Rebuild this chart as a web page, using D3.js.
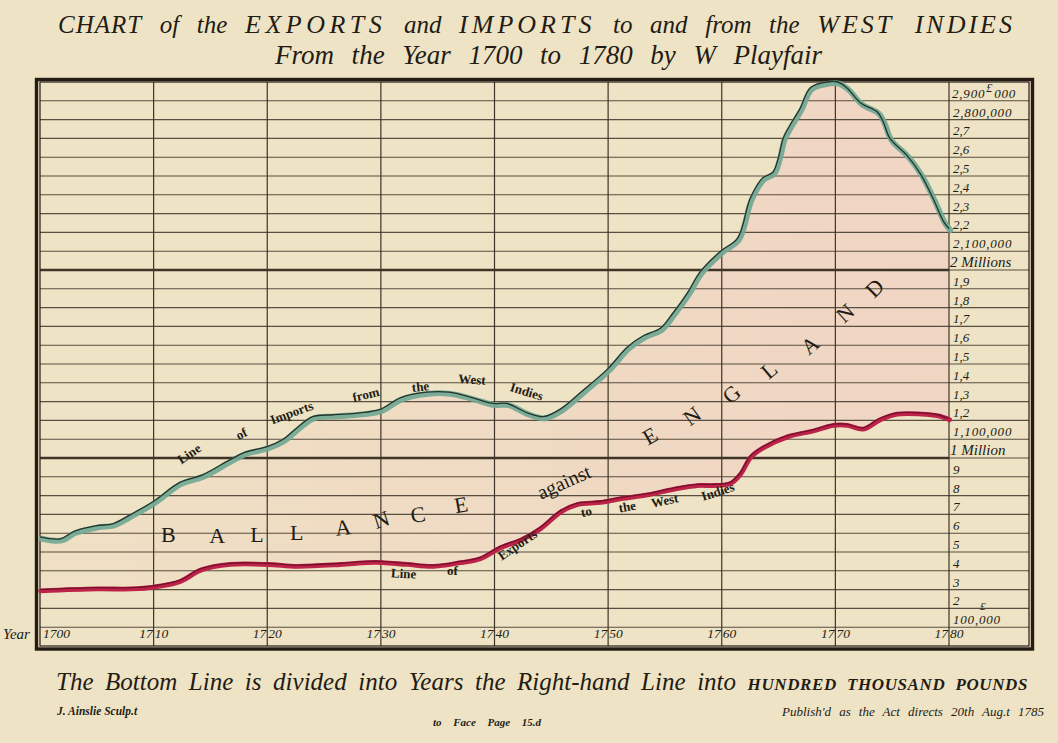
<!DOCTYPE html>
<html><head><meta charset="utf-8">
<script src="https://cdn.jsdelivr.net/npm/d3@7"></script>
<style>
html,body{margin:0;padding:0;background:#efe3c4;}
svg{display:block;}
</style></head><body>
<svg id="chart" width="1058" height="743"></svg>
<script>
// ---------------- DATA ----------------
const importYears = [1700,1701.8,1703,1705,1706.4,1708,1710,1712.3,1714.3,1716.7,1718,1720,1721.4,1722.6,1724,1725.8,1728.2,1730,1731.7,1734,1736,1738.1,1739.9,1741.1,1742.9,1744.3,1745.8,1747.8,1749.9,1751.7,1753.1,1754.6,1755.7,1757,1758.1,1759.9,1761.4,1762.5,1763.6,1764.5,1765,1765.4,1766,1766.9,1767.8,1769.3,1770.2,1771,1772.2,1773.7,1774.2,1774.8,1776.3,1777.5,1778.6,1779.5,1780];
const importValues = [580000,570000,610000,640000,650000,700000,770000,870000,910000,990000,1030000,1060000,1100000,1160000,1220000,1230000,1240000,1260000,1320000,1350000,1350000,1320000,1290000,1290000,1240000,1220000,1260000,1360000,1470000,1590000,1650000,1690000,1770000,1880000,1990000,2100000,2170000,2380000,2490000,2520000,2600000,2700000,2770000,2860000,2970000,3000000,3000000,2970000,2890000,2840000,2790000,2700000,2610000,2510000,2380000,2260000,2220000];

const exportYears = [1700,1705,1708,1710,1712.3,1714.1,1716.7,1720,1722.6,1726.4,1728.8,1730.1,1732.3,1734.6,1737,1738.7,1740.5,1742.3,1744,1745.8,1747.3,1749.3,1751.1,1753.4,1755.7,1757.8,1759.2,1760.7,1761.6,1762.5,1763.6,1765.8,1768,1769.8,1771,1772.4,1773.9,1775.4,1777.5,1779,1780];
const exportValues = [300000,310000,310000,320000,350000,410000,440000,440000,430000,440000,450000,450000,440000,430000,450000,470000,530000,570000,630000,720000,760000,770000,790000,810000,840000,860000,860000,870000,920000,1010000,1060000,1120000,1150000,1180000,1180000,1160000,1210000,1240000,1240000,1230000,1210000];

const yearTicks = [1700,1710,1720,1730,1740,1750,1760,1770,1780];
const valueTicks = [100000,200000,300000,400000,500000,600000,700000,800000,900000,1000000,1100000,1200000,1300000,1400000,1500000,1600000,1700000,1800000,1900000,2000000,2100000,2200000,2300000,2400000,2500000,2600000,2700000,2800000,2900000];
const valueLabels = ["100,000","2","3","4","5","6","7","8","9","1 Million","1,100,000","1,2","1,3","1,4","1,5","1,6","1,7","1,8","1,9","2 Millions","2,100,000","2,2","2,3","2,4","2,5","2,6","2,7","2,800,000","2,900,000"];
const majorTicks = [1000000,2000000];

// annotation words: [text, year, value, rotation]
const importNote = [["Line",1713.2,1016000,-34],["of",1717.8,1122000,-28],["Imports",1722.2,1234000,-20],["from",1728.7,1330000,-14],["the",1733.5,1372000,-6],["West",1738.0,1410000,4],["Indies",1742.8,1346000,17]];
const exportNote = [["Line",1732.0,378000,3],["of",1736.3,394000,0],["Exports",1742.1,532000,-34],["to",1748.1,707000,-14],["the",1751.7,734000,-10],["West",1755.0,766000,-12],["Indies",1759.7,814000,-18]];
const bigLetters = [["B",1711.3,580000,0],["A",1715.6,574000,0],["L",1719.1,580000,0],["L",1722.6,590000,0],["A",1726.7,617000,-6],["N",1730.1,660000,-18],["C",1733.3,686000,-10],["E",1737.1,739000,-10],
  ["E",1753.8,1106000,-30],["N",1757.5,1213000,-36],["G",1761.0,1330000,-40],["L",1764.3,1457000,-40],["A",1767.9,1590000,-40],["N",1771.0,1761000,-42],["D",1773.6,1894000,-45]];
const againstNote = ["against",1746.2,862000,-24];

// ---------------- CHART ----------------
const W = 1058, H = 743;
const svg = d3.select("#chart");
const ink = "#221c14";
const tf = "'Liberation Serif',serif";
const x = d3.scaleLinear().domain([1700,1780]).range([40,949]);
const y = d3.scaleLinear().domain([0,3000000]).range([646,82]);
const RIGHT = 1029;

svg.append("rect").attr("width",W).attr("height",H).attr("fill","#efe3c5");

const defs = svg.append("defs");
const grad = defs.append("linearGradient").attr("id","bal").attr("gradientUnits","userSpaceOnUse")
  .attr("x1",x(1700)).attr("x2",x(1780)).attr("y1",0).attr("y2",0);
grad.append("stop").attr("offset","0").attr("stop-color","#efe0c4");
grad.append("stop").attr("offset","0.45").attr("stop-color","#efdbc3");
grad.append("stop").attr("offset","1").attr("stop-color","#f0d5c3");

const imports = importYears.map((yr,i)=>[yr, importValues[i]]);
const exportsD = exportYears.map((yr,i)=>[yr, exportValues[i]]);
const line = d3.line().x(d=>x(d[0])).y(d=>y(d[1])).curve(d3.curveCatmullRom.alpha(0.5));

// balance area
const areaPath = line(imports) + line(exportsD.slice().reverse()).replace(/^M/,"L") + "Z";
svg.append("path").attr("d",areaPath).attr("fill","url(#bal)");

// horizontal grid
const grid = svg.append("g").attr("stroke","#3e3528").attr("fill","none");
grid.selectAll("line.h").data(valueTicks).join("line").attr("class","h")
  .attr("x1",x(1700)).attr("x2",RIGHT).attr("y1",d=>y(d)).attr("y2",d=>y(d))
  .attr("stroke-width",1.1).attr("stroke-opacity",0.85);
grid.selectAll("line.m").data(majorTicks).join("line").attr("class","m")
  .attr("x1",x(1700)).attr("x2",x(1780)).attr("y1",d=>y(d)).attr("y2",d=>y(d))
  .attr("stroke-width",2.6);
// vertical grid
grid.selectAll("line.v").data(yearTicks.slice(1)).join("line").attr("class","v")
  .attr("x1",d=>x(d)).attr("x2",d=>x(d)).attr("y1",y(0)).attr("y2",y(3000000))
  .attr("stroke-width",1.2);

// frame
svg.append("rect").attr("x",x(1700)).attr("y",y(3000000)).attr("width",RIGHT-x(1700)).attr("height",y(0)-y(3000000))
  .attr("fill","none").attr("stroke",ink).attr("stroke-width",1.2);
svg.append("rect").attr("x",36.5).attr("y",79.5).attr("width",RIGHT-36.5+3.5).attr("height",y(0)-79.5+3)
  .attr("fill","none").attr("stroke",ink).attr("stroke-width",3.4);

// lines
svg.append("path").attr("d",line(imports)).attr("fill","none").attr("stroke","#72a894")
  .attr("stroke-width",5.8).attr("stroke-opacity",0.92).attr("transform","translate(1.4,1.6)").attr("stroke-linecap","round");
svg.append("path").attr("d",line(imports)).attr("fill","none").attr("stroke","#23352c").attr("stroke-width",1.3);
svg.append("path").attr("d",line(exportsD)).attr("fill","none").attr("stroke","#bd2249")
  .attr("stroke-width",4.8).attr("transform","translate(0.6,1.2)").attr("stroke-linecap","round");
svg.append("path").attr("d",line(exportsD)).attr("fill","none").attr("stroke","#74102c").attr("stroke-width",1.3);

// right-hand value labels
const rl = svg.append("g").attr("font-family",tf).attr("font-style","italic").attr("fill",ink);
valueTicks.forEach((v,i)=>{
  const lab = valueLabels[i];
  const big = lab.includes("Million");
  const ls = (lab.length>6 && !big) ? 0.8 : 0;
  if (v===2900000){
    const parts = lab.split(/,(?=\d{3}$)/);
    const a = rl.append("text").attr("x",x(1780)+3).attr("y",y(v)-3).attr("font-size",13).attr("letter-spacing",ls).text(parts[0]);
    const w = a.node().getComputedTextLength();
    const pound = rl.append("text").attr("x",x(1780)+3+w+1).attr("y",y(v)-9).attr("font-size",12).text("£");
    const pw = pound.node().getComputedTextLength();
    rl.append("text").attr("x",x(1780)+3+w+pw+3).attr("y",y(v)-3).attr("font-size",13).attr("letter-spacing",ls).text(parts[1]);
  } else {
    rl.append("text").attr("x",x(1780)+(big?1:4)).attr("y",y(v)-3)
      .attr("font-size",big?15:13).attr("letter-spacing",ls).text(lab);
  }
});
rl.append("text").attr("x",980).attr("y",y(100000)-17).attr("font-size",11).text("£");

// year labels
const yl = svg.append("g").attr("font-family",tf).attr("font-style","italic").attr("fill",ink).attr("font-size",13.5);
yearTicks.forEach(yr=>{
  const s = String(yr);
  if (yr===1700){
    yl.append("text").attr("x",x(yr)+3).attr("y",y(0)-8).text(s);
  } else {
    yl.append("text").attr("x",x(yr)-1).attr("y",y(0)-8).attr("text-anchor","end").text(s.slice(0,2));
    yl.append("text").attr("x",x(yr)+1).attr("y",y(0)-8).text(s.slice(2));
  }
});
yl.append("text").attr("x",3).attr("y",y(0)-7).attr("font-size",15).text("Year");

// annotations
const ann = svg.append("g").attr("font-family",tf).attr("fill",ink);
function placeWord(g, d, size, weight){
  g.append("text").attr("text-anchor","middle").attr("dominant-baseline","middle")
   .attr("font-size",size).attr("font-weight",weight||"normal")
   .attr("transform",`translate(${x(d[1])},${y(d[2])}) rotate(${d[3]})`).text(d[0]);
}
importNote.forEach(d=>placeWord(ann,d,13,"bold"));
exportNote.forEach(d=>placeWord(ann,d,13,"bold"));
bigLetters.forEach(d=>placeWord(ann,d,22,"normal"));
placeWord(ann,againstNote,20,"normal");

// fit a text to a target width by adjusting word spacing
function fitWords(t, target){
  const nat = t.node().getComputedTextLength();
  const n = (t.text().match(/ /g)||[]).length;
  if (n>0) t.attr("word-spacing", (target-nat)/n);
}

// titles
const t1 = svg.append("text").attr("x",58).attr("y",33).attr("font-family",tf).attr("font-style","italic").attr("fill",ink);
[["CHART",25,1],[" of the ",25,0],["EXPORTS",26,4.5],[" and ",25,0],["IMPORTS",26,4],[" to and from the ",25,0],["WEST INDIES",26,3]]
  .forEach(p=>t1.append("tspan").attr("font-size",p[1]).attr("letter-spacing",p[2]).text(p[0]));
fitWords(t1, 957);
const t2 = svg.append("text").attr("x",275).attr("y",64).attr("font-family",tf).attr("font-style","italic").attr("fill",ink)
  .attr("font-size",27).text("From the Year 1700 to 1780 by W Playfair");
fitWords(t2, 547);

const cap = svg.append("text").attr("x",56).attr("y",690).attr("font-family",tf).attr("font-style","italic").attr("fill",ink);
cap.append("tspan").attr("font-size",25).text("The Bottom Line is divided into Years the Right-hand Line into ");
cap.append("tspan").attr("font-size",17).attr("font-weight","bold").attr("letter-spacing",0.6).text("HUNDRED THOUSAND POUNDS");
fitWords(cap, 972);

svg.append("text").attr("x",57).attr("y",715).attr("font-family",tf).attr("font-style","italic").attr("font-weight","bold")
  .attr("fill",ink).attr("font-size",11.5).text("J. Ainslie Sculp.t");
const fp = svg.append("text").attr("x",433).attr("y",726).attr("font-family",tf).attr("font-style","italic").attr("font-weight","bold")
  .attr("fill",ink).attr("font-size",11).text("to Face Page 15.d");
fitWords(fp, 108);
const pb = svg.append("text").attr("x",782).attr("y",716).attr("font-family",tf).attr("font-style","italic")
  .attr("fill",ink).attr("font-size",13).text("Publish'd as the Act directs 20th Aug.t 1785");
fitWords(pb, 262);
</script>
</body></html>
